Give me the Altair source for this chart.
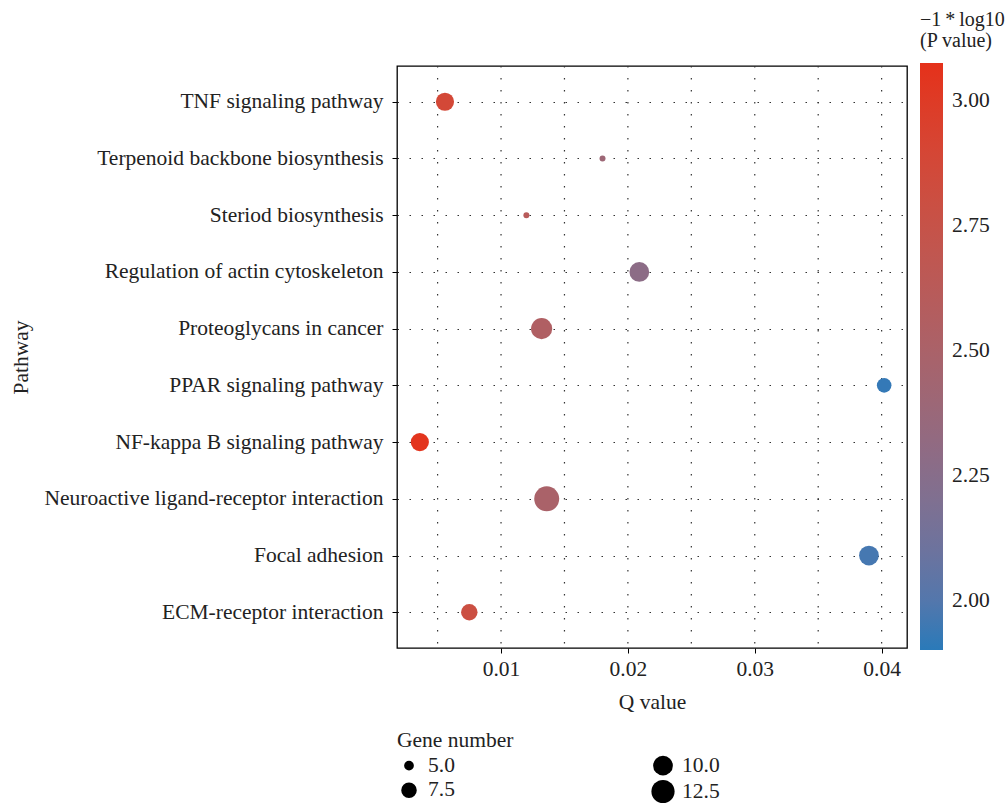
import altair as alt
import pandas as pd

pathways = [
    "TNF signaling pathway",
    "Terpenoid backbone biosynthesis",
    "Steriod biosynthesis",
    "Regulation of actin cytoskeleton",
    "Proteoglycans in cancer",
    "PPAR signaling pathway",
    "NF-kappa B signaling pathway",
    "Neuroactive ligand-receptor interaction",
    "Focal adhesion",
    "ECM-receptor interaction",
]
q_values = [0.00558, 0.0180, 0.0120, 0.0209, 0.0132, 0.0402, 0.0036, 0.0136, 0.0390, 0.0075]
gene_numbers = [9, 4, 4, 10, 11, 7, 9, 14, 10, 8]
neg_log_p = [2.88, 2.40, 2.62, 2.28, 2.55, 1.92, 3.05, 2.50, 1.96, 2.80]

x_grid = [0.005, 0.010, 0.015, 0.020, 0.025, 0.030, 0.035, 0.040]
x_ticks = [0.01, 0.02, 0.03, 0.04]
color_ticks = [2.0, 2.25, 2.5, 2.75, 3.0]
size_legend_values = [5.0, 7.5, 10.0, 12.5]

df = pd.DataFrame({
    "pathway": pathways,
    "q": q_values,
    "genes": gene_numbers,
    "logp": neg_log_p,
})
grid_df = pd.DataFrame({"q": x_grid})

FONT = "Liberation Serif"
FS = 21.5
TXT = "#222"

x_scale = alt.Scale(domain=[0.0018, 0.042], nice=False, zero=False)
x_axis = alt.Axis(values=x_ticks, format=".2f", title="Q value", grid=False,
                  tickSize=5, tickColor="black", labelFontSize=FS, titleFontSize=FS,
                  labelPadding=5, titlePadding=12, titleFontWeight="normal",
                  labelColor=TXT, titleColor=TXT, domain=False)

grid = alt.Chart(grid_df).mark_rule(
    color="#333", strokeWidth=1.2, strokeDash=[1.5, 10.5]
).encode(x=alt.X("q:Q", scale=x_scale, axis=x_axis))

points = alt.Chart(df).mark_circle(opacity=1).encode(
    x=alt.X("q:Q", scale=x_scale, axis=x_axis),
    y=alt.Y("pathway:N", sort=pathways,
            scale=alt.Scale(type="point", padding=0.63),
            axis=alt.Axis(title="Pathway", grid=True, gridDash=[1.5, 10.5],
                          gridColor="#333", gridWidth=1.2, tickSize=5,
                          tickColor="black", labelFontSize=FS, titleFontSize=FS,
                          titleFontWeight="normal", labelPadding=9, labelLimit=600,
                          labelColor=TXT, titleColor=TXT, domain=False,
                          titleX=-365, titleY=291)),
    color=alt.Color("logp:Q",
                    scale=alt.Scale(domain=[1.902, 3.076], range=["#2A7AB9", "#E5311A"],
                                    interpolate="lab"),
                    legend=alt.Legend(orient="none", legendX=523, legendY=-56,
                                      title=["\u22121\u2009*\u2009log10", "(P value)"],
                                      gradientLength=587, gradientThickness=23,
                                      gradientStrokeWidth=0,
                                      values=color_ticks, format=".2f",
                                      titleFontSize=20, labelFontSize=FS,
                                      titleLineHeight=21,
                                      titleFontWeight="normal", titleColor=TXT,
                                      labelColor=TXT, labelOffset=9,
                                      titlePadding=12, titleLimit=200)),
    size=alt.Size("genes:Q",
                  scale=alt.Scale(domain=[4, 14], range=[36, 625], zero=False),
                  legend=alt.Legend(orient="none", legendX=0, legendY=664,
                                    title="Gene number", direction="vertical",
                                    columns=2, columnPadding=196,
                                    values=size_legend_values, format=".1f",
                                    symbolFillColor="black", symbolStrokeWidth=0,
                                    symbolOpacity=1, labelOffset=7,
                                    titleFontSize=FS, labelFontSize=FS,
                                    titleFontWeight="normal", titleColor=TXT,
                                    labelColor=TXT, rowPadding=2, titlePadding=3)),
)

chart = alt.layer(grid, points).properties(
    width=510, height=582,
    autosize="none",
    padding={"left": 397, "top": 66, "right": 99, "bottom": 157},
).configure(font=FONT).configure_view(stroke="black", strokeWidth=1.3)

chart.save("out.html", embed_options={"renderer": "svg", "actions": False})
